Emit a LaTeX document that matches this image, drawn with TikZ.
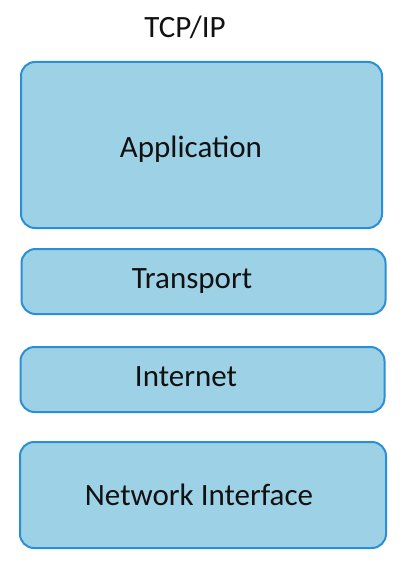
\documentclass[tikz,border=0pt]{standalone}
\usepackage{fontspec}
\setmainfont{Carlito}
\usetikzlibrary{shapes}

\definecolor{layerfill}{HTML}{9DD2E6}
\definecolor{layerline}{HTML}{2B8FD6}
\definecolor{layertext}{HTML}{111111}

\begin{document}
\begin{tikzpicture}[x=1pt, y=-1pt,
  layer/.style={rectangle, draw=layerline, fill=layerfill, line width=2pt,
                rounded corners=14pt, inner sep=0pt, minimum width=364pt},
  layername/.style={anchor=base, text=layertext, inner sep=0pt,
                    font=\fontsize{31}{37}\selectfont}]
\useasboundingbox (0,0) rectangle (404,567);

\node[layer, minimum height=166pt, minimum width=361pt] (APP) at (201.5,145) {};
\node[layer, minimum height=65pt]  (TRA) at (203.5,281.5) {};
\node[layer, minimum height=65pt]  (INT) at (202.5,379.5) {};
\node[layer, minimum height=106pt, minimum width=366pt] (NET) at (203,495) {};

\node[layername] (T)  at (185,38)  {TCP/IP};
\node[layername] (T1) at (191,157) {Application};
\node[layername] (T2) at (192,288) {Transport};
\node[layername] (T3) at (186,386) {Internet};
\node[layername] (T4) at (199,505) {Network Interface};
\end{tikzpicture}
\end{document}
